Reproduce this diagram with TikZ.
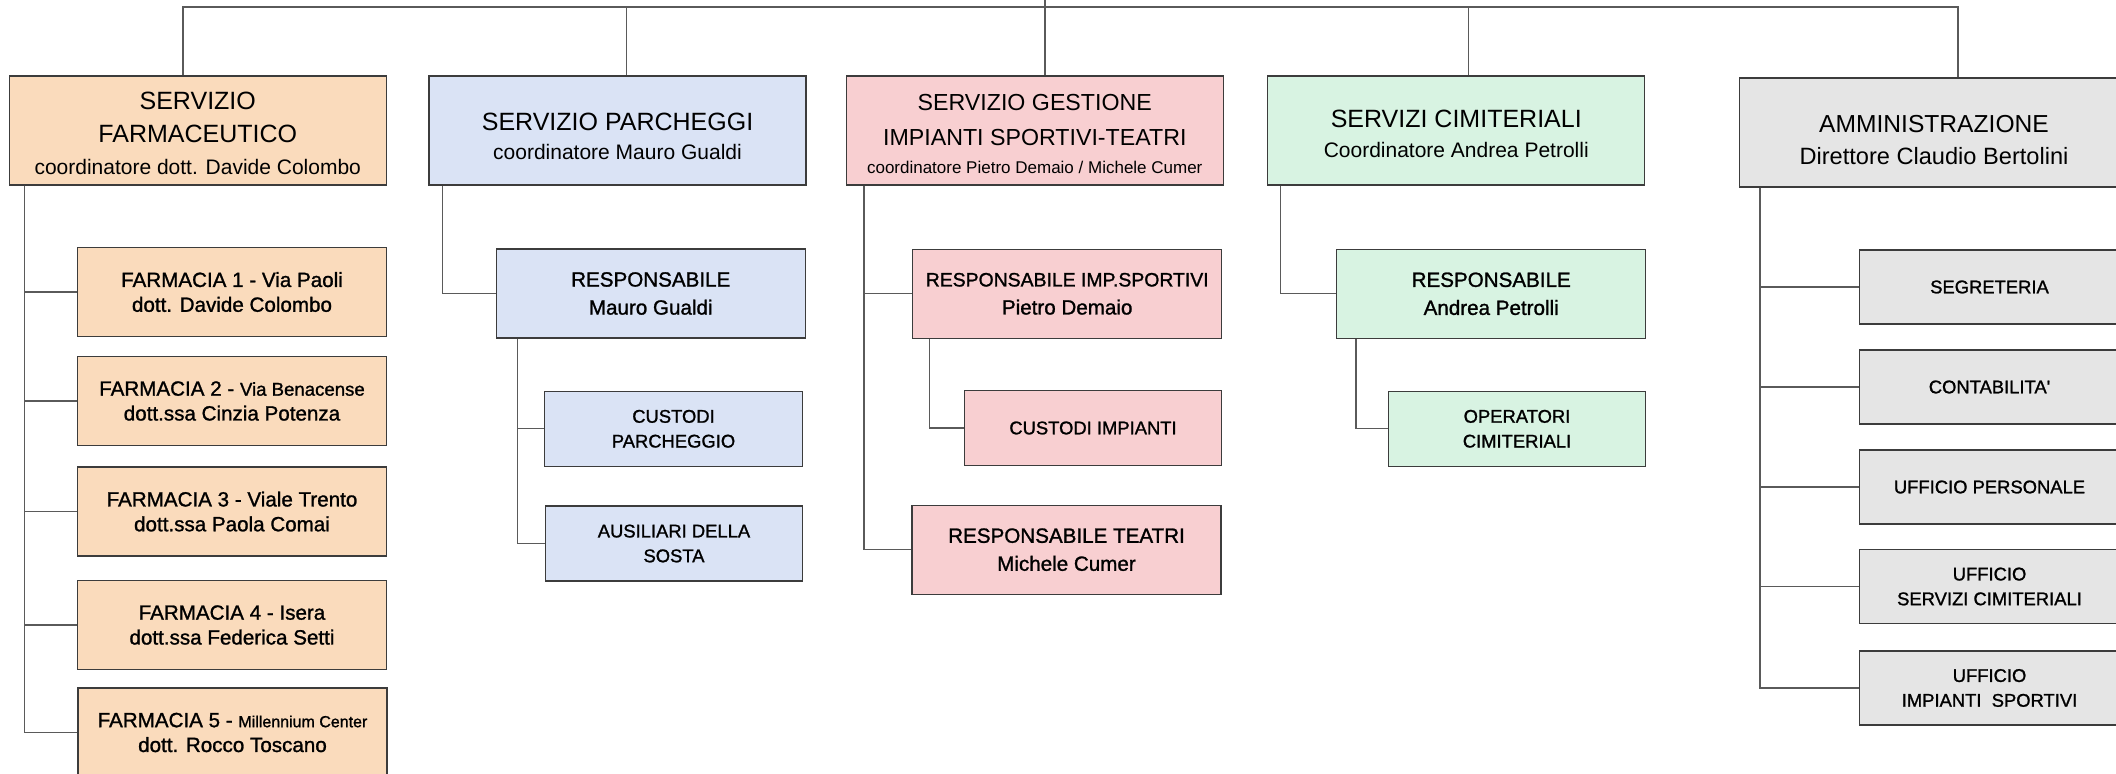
\documentclass[tikz,border=0pt]{standalone}
\usepackage{fontspec}
\setmainfont{Liberation Sans}
\newfontfamily\medfont{Liberation Sans}[FakeBold=1.2]
\definecolor{farmfill}{RGB}{250,219,188}
\definecolor{parcfill}{RGB}{218,227,245}
\definecolor{gestfill}{RGB}{248,207,209}
\definecolor{cimifill}{RGB}{216,243,226}
\definecolor{ammfill}{RGB}{229,229,229}
\definecolor{edgegray}{RGB}{60,60,60}
\definecolor{linegray}{RGB}{90,90,90}
\newcommand{\headsz}{\fontsize{12.5}{16}\selectfont}
\newcommand{\subsz}{\fontsize{10.5}{13}\selectfont}
\newcommand{\kidsz}{\medfont\fontsize{10.3}{12.4}\selectfont}
\newcommand{\leafsz}{\medfont\fontsize{9.2}{12.4}\selectfont}
\newcommand{\lift}[1]{\rule{0pt}{#1}}
\tikzstyle{box}=[draw=edgegray,line width=0.65pt,align=center,inner sep=0pt]
\tikzstyle{head}=[box,minimum width=188.5pt,minimum height=54.5pt,font=\headsz]
\tikzstyle{kid}=[box,minimum width=154.5pt,minimum height=44.5pt,font=\kidsz]
\tikzstyle{leaf}=[box,minimum width=128.75pt,minimum height=37.5pt,font=\leafsz]
\tikzstyle{link}=[draw=linegray,line width=0.65pt]

\begin{document}
\begin{tikzpicture}[x=0.5pt,y=-0.5pt]
    \useasboundingbox (0,0) rectangle (2116,774);
    % servizi
    \node[head,fill=farmfill] (farm) at (197.75,130.5) {\lift{11.7pt}SERVIZIO\\[0.5pt]FARMACEUTICO\\{\subsz coordinatore dott. Davide Colombo}};
    \node[head,fill=parcfill] (parc) at (617.5,130.5) {\lift{15pt}SERVIZIO PARCHEGGI\\[-1.5pt]{\subsz coordinatore Mauro Gualdi}};
    \node[head,fill=gestfill,font=\fontsize{11.6}{17.5}\selectfont] (gest) at (1034.75,130.5) {\lift{11.3pt}SERVIZIO GESTIONE\\IMPIANTI SPORTIVI-TEATRI\\[-3.5pt]{\fontsize{8.5}{10}\selectfont coordinatore Pietro Demaio / Michele Cumer}};
    \node[head,fill=cimifill] (cimi) at (1456.25,130.5) {\lift{11.7pt}SERVIZI CIMITERIALI\\[-1pt]{\subsz Coordinatore Andrea Petrolli}};
    \node[head,fill=ammfill,minimum width=194.5pt,font=\fontsize{12.3}{15.7}\selectfont] (amm) at (1934,132.5) {\lift{16.2pt}AMMINISTRAZIONE\\{\fontsize{11.8}{14}\selectfont Direttore Claudio Bertolini}};

    % farmacie
    \node[kid,fill=farmfill] (f1) at (232,292) {FARMACIA 1 - Via Paoli\\dott. Davide Colombo};
    \node[kid,fill=farmfill] (f2) at (232,401) {FARMACIA 2 - {\fontsize{9.3}{11}\selectfont Via Benacense}\\dott.ssa Cinzia Potenza};
    \node[kid,fill=farmfill] (f3) at (232,511.5) {FARMACIA 3 - Viale Trento\\dott.ssa Paola Comai};
    \node[kid,fill=farmfill] (f4) at (232,625) {FARMACIA 4 - Isera\\dott.ssa Federica Setti};
    \node[kid,fill=farmfill] (f5) at (232.5,732.5) {FARMACIA 5 - {\fontsize{8}{10}\selectfont Millennium Center}\\dott. Rocco Toscano};

    % parcheggi
    \node[kid,fill=parcfill] (rparc) at (650.75,293.5) {RESPONSABILE\\[1.6pt]Mauro Gualdi};
    \node[leaf,fill=parcfill] (cparc) at (673.5,428.8) {CUSTODI\\PARCHEGGIO};
    \node[leaf,fill=parcfill] (aparc) at (674,543.5) {AUSILIARI DELLA\\SOSTA};

    % impianti sportivi e teatri
    \node[kid,fill=gestfill] (rsport) at (1067.2,293.8) {{\fontsize{9.7}{12}\selectfont RESPONSABILE IMP.SPORTIVI}\\[1.6pt]Pietro Demaio};
    \node[leaf,fill=gestfill] (cimp) at (1093,428) {CUSTODI IMPIANTI};
    \node[kid,fill=gestfill] (rteatri) at (1066.5,549.7) {RESPONSABILE TEATRI\\[1.6pt]Michele Cumer};

    % cimiteriali
    \node[kid,fill=cimifill] (rcimi) at (1491.2,293.8) {RESPONSABILE\\[1.6pt]Andrea Petrolli};
    \node[leaf,fill=cimifill] (ocimi) at (1517,428.8) {OPERATORI\\CIMITERIALI};

    % amministrazione
    \node[leaf,fill=ammfill,minimum width=130pt,minimum height=37pt] (a1) at (1989.5,287) {SEGRETERIA};
    \node[leaf,fill=ammfill,minimum width=130pt,minimum height=37pt] (a2) at (1989.5,387) {CONTABILITA'};
    \node[leaf,fill=ammfill,minimum width=130pt,minimum height=37pt] (a3) at (1989.5,487) {UFFICIO PERSONALE};
    \node[leaf,fill=ammfill,minimum width=130pt,minimum height=37pt] (a4) at (1989.5,586.5) {UFFICIO\\SERVIZI CIMITERIALI};
    \node[leaf,fill=ammfill,minimum width=130pt,minimum height=37pt] (a5) at (1989.5,688) {UFFICIO\\IMPIANTI\ \ SPORTIVI};

    % collegamenti
    \coordinate (up) at (1045,0);
    \coordinate (bus) at (1045,7);
    \draw[link] (up) -- (bus);
    \foreach \parent/\dx in {farm/-14.75,parc/9,gest/10.25,cimi/12.25,amm/24}
        \draw[link] (\parent.north) ++(\dx,0) |- (bus);

    \foreach \from/\dx/\to in {farm/16/f1,farm/16/f2,farm/16/f3,farm/16/f4,farm/16/f5,
                               parc/14/rparc,rparc/22/cparc,rparc/22/aparc,
                               gest/18.5/rsport,gest/18.5/rteatri,rsport/17.5/cimp,
                               cimi/13.5/rcimi,rcimi/20/ocimi,
                               amm/21/a1,amm/21/a2,amm/21/a3,amm/21/a4,amm/21/a5}
        \draw[link] (\from.south west) ++(\dx,0) |- (\to.west);
\end{tikzpicture}
\end{document}
